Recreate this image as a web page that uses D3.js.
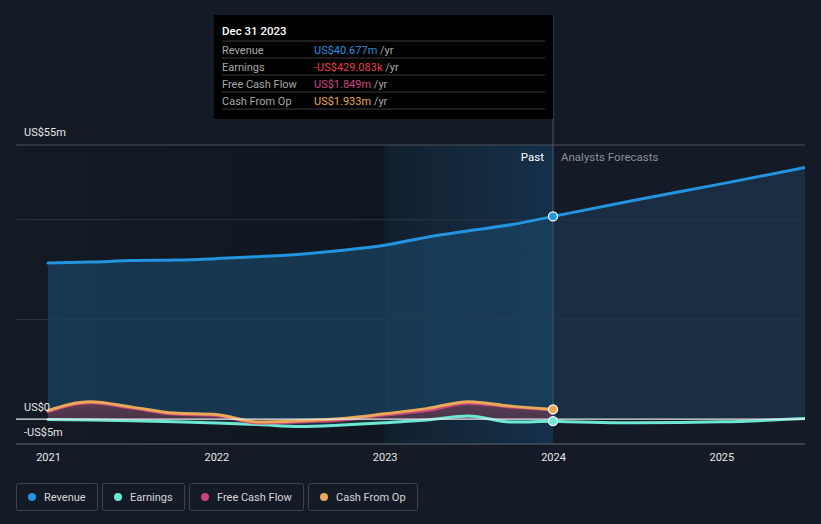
<!DOCTYPE html>
<html><head><meta charset="utf-8">
<script src="https://cdn.jsdelivr.net/npm/d3@7"></script>
<style>
html,body{margin:0;padding:0;background:#151b26;}
svg{display:block;font-family:Roboto,"Noto Sans",sans-serif;}
</style></head><body>
<svg id="c" width="821" height="524"></svg>
<script>
const pastYears = [2021.0,2021.25,2021.5,2021.75,2022.0,2022.25,2022.5,2022.75,2023.0,2023.25,2023.5,2023.75,2024.0];
const revenuePast = [31.3,31.5,31.8,31.9,32.2,32.6,33.1,33.9,34.9,36.5,37.8,39.0,40.677];
const earningsPast = [-0.1,-0.2,-0.35,-0.55,-0.8,-1.1,-1.5,-1.2,-0.75,-0.2,0.6,-0.6,-0.429];
const fcfPast = [1.5,3.3,2.2,1.0,0.7,-0.8,-0.6,-0.2,0.8,1.7,3.2,2.4,1.849];
const cfoPast = [1.7,3.5,2.4,1.2,0.9,-0.6,-0.35,0.1,1.06,2.1,3.5,2.6,1.933];
const foreYears = [2024.0,2024.5,2025.0,2025.5];
const revenueFore = [40.677,44.0,47.2,50.5];
const earningsFore = [-0.429,-0.75,-0.55,0.1];
const xTicks = [2021,2022,2023,2024,2025];
const yLabels = [{v:55,t:"US$55m"},{v:0,t:"US$0"},{v:-5,t:"-US$5m"}];
const gridVals = [55,40,20];
const tooltipRows = [
  {label:"Revenue", value:"US$40.677m", color:"#2394df"},
  {label:"Earnings", value:"-US$429.083k", color:"#e8414a"},
  {label:"Free Cash Flow", value:"US$1.849m", color:"#d0458a"},
  {label:"Cash From Op", value:"US$1.933m", color:"#e8a857"}
];
const legendItems = [
  {label:"Revenue", color:"#2394df"},
  {label:"Earnings", color:"#6ee6d4"},
  {label:"Free Cash Flow", color:"#c9447f"},
  {label:"Cash From Op", color:"#e8a857"}
];

const svg = d3.select("#c");
const L = 16, R = 805, T = 145, B = 444;
const x = d3.scaleLinear().domain([2021,2024]).range([48,553]);
const y = d3.scaleLinear().domain([-5,55]).range([B,T]);

const defs = svg.append("defs");
const g1 = defs.append("linearGradient").attr("id","leftbg").attr("x1",0).attr("x2",1).attr("y1",0).attr("y2",0);
g1.append("stop").attr("offset","0").attr("stop-color","#141a24");
g1.append("stop").attr("offset","1").attr("stop-color","#10161f");
const g2 = defs.append("linearGradient").attr("id","pastbg").attr("x1",0).attr("x2",1).attr("y1",0).attr("y2",0);
g2.append("stop").attr("offset","0").attr("stop-color","#12202e");
g2.append("stop").attr("offset","1").attr("stop-color","#14304a");
const g3 = defs.append("linearGradient").attr("id","posfill").attr("x1",0).attr("x2",0).attr("y1",0).attr("y2",1);
g3.append("stop").attr("offset","0").attr("stop-color","#8a5c6a").attr("stop-opacity",0.75);
g3.append("stop").attr("offset","1").attr("stop-color","#5a3848").attr("stop-opacity",0.55);
defs.append("clipPath").attr("id","clip").append("rect").attr("x",L).attr("y",0).attr("width",R-L).attr("height",B);

// backgrounds
svg.append("rect").attr("x",L).attr("y",T).attr("width",x(2023)-L).attr("height",B-T).attr("fill","url(#leftbg)");
svg.append("rect").attr("x",x(2023)).attr("y",T).attr("width",x(2024)-x(2023)).attr("height",B-T).attr("fill","url(#pastbg)");

// gridlines
svg.selectAll(".grid").data(gridVals).enter().append("line")
  .attr("x1",L).attr("x2",R).attr("y1",d=>y(d)).attr("y2",d=>y(d))
  .attr("stroke",d=>d===55?"#4a5058":"#2b3440").attr("stroke-width",1);

const pastData = (arr)=>pastYears.map((t,i)=>({t,v:arr[i]}));
const foreData = (arr)=>foreYears.map((t,i)=>({t,v:arr[i]}));
const curve = d3.curveMonotoneX;
const line = d3.line().x(d=>x(d.t)).y(d=>y(d.v)).curve(curve);
const area = d3.area().x(d=>x(d.t)).y0(y(0)).y1(d=>y(d.v)).curve(curve);

const plot = svg.append("g").attr("clip-path","url(#clip)");
plot.append("path").datum(pastData(revenuePast)).attr("d",area).attr("fill","#1a4260").attr("opacity",0.75);
plot.append("path").datum(foreData(revenueFore)).attr("d",area).attr("fill","#1d3550").attr("opacity",0.7);

plot.append("path").datum(pastData(cfoPast)).attr("d",area).attr("fill","url(#posfill)").attr("opacity",0.6);
plot.append("path").datum(pastData(fcfPast)).attr("d",area).attr("fill","#7a2a40").attr("opacity",0.35);
plot.append("path").datum(pastData(earningsPast)).attr("d",area).attr("fill","#3a7a78").attr("opacity",0.25);

svg.append("line").attr("x1",L).attr("x2",R).attr("y1",y(0)).attr("y2",y(0)).attr("stroke","#e8e8e8").attr("stroke-width",1.2);

const drawLine=(data,color)=>plot.append("path").datum(data).attr("d",line).attr("fill","none").attr("stroke",color).attr("stroke-width",3).attr("stroke-linecap","round");
drawLine(pastData(earningsPast),"#6ee6d4");
drawLine(foreData(earningsFore),"#6ee6d4");
drawLine(pastData(fcfPast),"#c9447f");
drawLine(pastData(cfoPast),"#e8a857");
drawLine(pastData(revenuePast),"#2394df");
drawLine(foreData(revenueFore),"#2394df");

svg.append("line").attr("x1",x(2024)).attr("x2",x(2024)).attr("y1",15).attr("y2",y(0)).attr("stroke","#3c5a74").attr("stroke-width",1);

const markers=[{v:revenuePast[12],c:"#2394df"},{v:cfoPast[12],c:"#e8a857"},{v:earningsPast[12],c:"#6ee6d4"}];
svg.selectAll(".mk").data(markers).enter().append("circle")
  .attr("cx",x(2024)).attr("cy",d=>y(d.v)).attr("r",4.5).attr("fill",d=>d.c).attr("stroke","#fff").attr("stroke-width",1.3);

svg.append("text").attr("x",x(2024)-9).attr("y",161).attr("text-anchor","end").attr("fill","#ffffff").attr("font-size",11.5).text("Past");
svg.append("text").attr("x",x(2024)+8).attr("y",161).attr("fill","#8a8f96").attr("font-size",11.5).text("Analysts Forecasts");

svg.append("text").attr("x",24).attr("y",136).attr("fill","#e6e6e6").attr("font-size",11).text(yLabels[0].t);
svg.append("text").attr("x",24).attr("y",411).attr("fill","#e6e6e6").attr("font-size",11).text(yLabels[1].t);
svg.append("text").attr("x",24).attr("y",436).attr("fill","#e6e6e6").attr("font-size",11).text(yLabels[2].t);

const xAxis = d3.axisBottom(x).tickValues(xTicks).tickFormat(d3.format("d")).tickSize(0).tickPadding(9);
const ax = svg.append("g").attr("transform",`translate(0,${B})`).call(xAxis);
ax.select(".domain").remove();
ax.selectAll("text").attr("fill","#e6e6e6").attr("font-size",11).attr("font-family","Roboto,sans-serif");
svg.append("line").attr("x1",L).attr("x2",R).attr("y1",B).attr("y2",B).attr("stroke","#4a5058").attr("stroke-width",1.5);

const tt = svg.append("g");
tt.append("rect").attr("x",214).attr("y",15).attr("width",339).attr("height",104).attr("fill","#000");
tt.append("text").attr("x",222).attr("y",35).attr("fill","#fff").attr("font-size",11.5).attr("font-weight",500).text("Dec 31 2023");
tooltipRows.forEach((r,i)=>{
  const yy = 41 + i*17;
  tt.append("line").attr("x1",222).attr("x2",545).attr("y1",yy).attr("y2",yy).attr("stroke","#3a3a3a");
  tt.append("text").attr("x",222).attr("y",yy+12.5).attr("fill","#a8a8a8").attr("font-size",11).text(r.label);
  const t = tt.append("text").attr("x",314).attr("y",yy+12.5).attr("font-size",11);
  t.append("tspan").attr("fill",r.color).text(r.value);
  t.append("tspan").attr("fill","#a8a8a8").text(" /yr");
});
tt.append("line").attr("x1",222).attr("x2",545).attr("y1",109).attr("y2",109).attr("stroke","#3a3a3a");

const lg = svg.append("g");
let lx = 16;
legendItems.forEach(it=>{
  const gi = lg.append("g");
  const rect = gi.append("rect").attr("x",lx+0.5).attr("y",483.5).attr("height",27).attr("rx",2).attr("fill","none").attr("stroke","#3e444c");
  gi.append("circle").attr("cx",lx+16).attr("cy",497).attr("r",4).attr("fill",it.color);
  const txt = gi.append("text").attr("x",lx+28).attr("y",501).attr("fill","#d6d6d6").attr("font-size",11).text(it.label);
  const real = txt.node().getComputedTextLength();
  const w2 = Math.round(real+39);
  rect.attr("width",w2);
  lx += w2 + 5;
});
</script>
</body></html>
